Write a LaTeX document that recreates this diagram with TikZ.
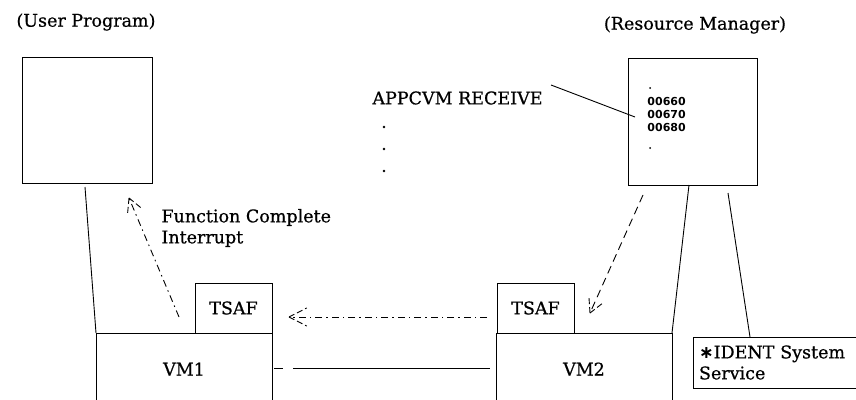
\documentclass[tikz,border=0pt]{standalone}
\usepackage{fontspec}
\setmainfont{DejaVu Serif}[FakeBold=0.6]
\newfontfamily\numfont{DejaVu Sans}
\usetikzlibrary{calc}
\begin{document}
\begin{tikzpicture}[x=1pt,y=-1pt,line width=0.9pt,
  box/.style={draw,rectangle,inner sep=0pt,outer sep=0pt,anchor=north west},
  lbl/.style={font=\fontsize{17.5}{21}\selectfont,inner sep=0pt},
  num/.style={font=\numfont\bfseries\fontsize{11}{13}\selectfont,inner sep=0pt,anchor=west},
  dotmark/.style={circle,fill,inner sep=0pt,minimum size=2.6pt},
  dashdotline/.style={dash pattern=on 7pt off 4pt on 1.5pt off 4pt},
  dashline/.style={dash pattern=on 8pt off 5pt},
  armline/.style={dash pattern=on 6pt off 3pt}]
\useasboundingbox (0,0) rectangle (856,399);
\clip (0,0) rectangle (856,399);
\fill[white] (0,0) rectangle (856,399);

% boxes
\node[box,minimum width=130pt,minimum height=126pt] (up) at (22,57) {};
\node[box,minimum width=129pt,minimum height=127pt] (rm) at (628,58) {};
\node[box,lbl,minimum width=77pt,minimum height=50pt] (tsafa) at (195,283) {TSAF};
\node[box,lbl,minimum width=176pt,minimum height=72pt] (vma) at (96,333) {VM1};
\node[box,lbl,minimum width=77pt,minimum height=50pt] (tsafb) at (497,283) {TSAF};
\node[box,lbl,minimum width=176pt,minimum height=72pt] (vmb) at (496,333) {VM2};
\node[box,lbl,minimum height=51pt,align=left,text width=170pt,inner xsep=6pt] (ident) at (693,337)
  {{\numfont\bfseries ∗}IDENT System\\Service};

% labels
\node[lbl] (uplabel) at (86,22) {(User Program)};
\node[lbl] (rmlabel) at (695,25) {(Resource Manager)};
\node[lbl,anchor=west] (appc) at (372,98) {APPCVM RECEIVE};
\node[dotmark] (d1) at (384,127) {};
\node[dotmark] (d2) at (384,149) {};
\node[dotmark] (d3) at (384,171) {};
\node[lbl,anchor=west,align=left] (fci) at (161,228) {Function Complete\\Interrupt};

% resource manager contents
\node[dotmark,minimum size=2pt] (r1) at (650,88) {};
\node[num] (n1) at (647,101) {00660};
\node[num] (n2) at (647,114) {00670};
\node[num] (n3) at (647,127) {00680};
\node[dotmark,minimum size=2pt] (r2) at (650,148) {};

% solid connectors
\draw ($(up.south west)+(63,4)$) -- (vma.north west);
\draw ($(rm.south west)+(61,0)$) -- (vmb.north east);
\draw ($(rm.south west)+(100,8)$) -- ($(ident.north west)+(57,0)$);
\draw[dash pattern=on 9pt off 10pt on 400pt] ($(vma.north east)+(2,35)$) -- ($(vmb.north west)+(-6,35)$);
\draw ($(appc.east)+(8,-13)$) -- ($(rm.north west)+(7,59)$);

% dashed arrows
\coordinate (fatip) at ($(up.south west)+(107,15)$);
\coordinate (fatail) at ($(tsafa.south west)+(-16,-16)$);
\draw[dashdotline] (fatail) -- (fatip);
\draw[armline] (fatip) -- ($(fatip)!18pt!28:(fatail)$);
\draw[armline] (fatip) -- ($(fatip)!18pt!-28:(fatail)$);

\coordinate (hatip) at ($(tsafa.south east)+(17,-16)$);
\coordinate (hatail) at ($(tsafb.south west)+(-10,-16)$);
\draw[dashdotline] (hatail) -- (hatip);
\draw[armline] (hatip) -- ($(hatip)!20pt!27:(hatail)$);
\draw[armline] (hatip) -- ($(hatip)!20pt!-27:(hatail)$);

\coordinate (datail) at ($(rm.south west)+(15,10)$);
\coordinate (datip) at ($(tsafb.south east)+(16,-20)$);
\draw[dashline] (datail) -- (datip);
\draw[armline] (datip) -- ($(datip)!18pt!28:(datail)$);
\draw[armline] (datip) -- ($(datip)!18pt!-28:(datail)$);
\end{tikzpicture}
\end{document}
